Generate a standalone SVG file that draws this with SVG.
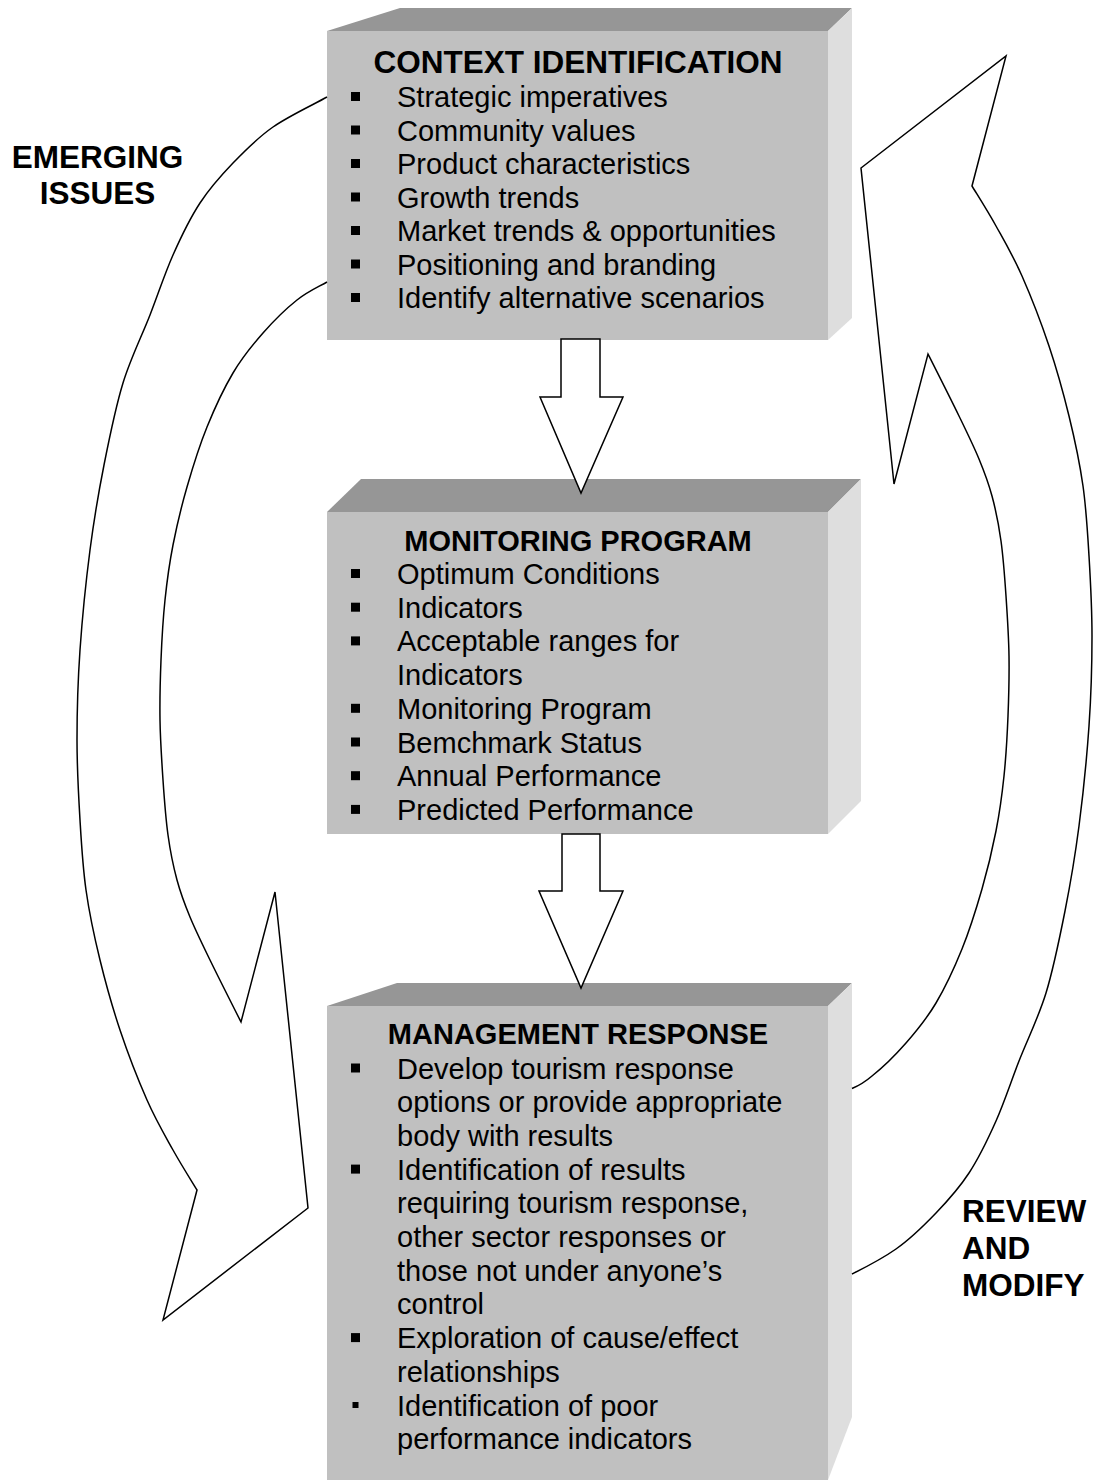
<svg xmlns="http://www.w3.org/2000/svg" width="1094" height="1480" viewBox="0 0 1094 1480">
<style>
.front{fill:#c0c0c0}
.topf{fill:#969696}
.side{fill:#dedede}
.t{font-family:"Liberation Sans",Arial,sans-serif;font-size:29px;fill:#000}
.h{font-weight:bold;text-anchor:middle}
.lbl{font-family:"Liberation Sans",Arial,sans-serif;font-size:31.5px;font-weight:bold;fill:#000}
.b{fill:#000}
.conn{fill:#fff;stroke:#000;stroke-width:1.5;stroke-linejoin:miter}
</style>
<rect width="1094" height="1480" fill="#fff"/>

<g id="node-context">
<polygon class="topf" points="327,31 400,8 852,8 828,31"/>
<polygon class="side" points="828,31 852,8 852,318 828,340"/>
<rect class="front" x="327" y="31" width="501" height="309"/>
<text class="t h" x="578" y="73" style="font-size:31.5px">CONTEXT IDENTIFICATION</text>
<g class="b">
<rect x="351" y="92" width="9" height="9"/>
<rect x="351" y="125.5" width="9" height="9"/>
<rect x="351" y="159" width="9" height="9"/>
<rect x="351" y="192.5" width="9" height="9"/>
<rect x="351" y="226" width="9" height="9"/>
<rect x="351" y="259.5" width="9" height="9"/>
<rect x="351" y="293" width="9" height="9"/>
</g>
<text class="t" x="397" y="107">Strategic imperatives</text>
<text class="t" x="397" y="140.5">Community values</text>
<text class="t" x="397" y="174">Product characteristics</text>
<text class="t" x="397" y="207.5">Growth trends</text>
<text class="t" x="397" y="241">Market trends &amp; opportunities</text>
<text class="t" x="397" y="274.5">Positioning and branding</text>
<text class="t" x="397" y="308">Identify alternative scenarios</text>
</g>

<g id="node-monitoring">
<polygon class="topf" points="327,512 361,479 861,479 828,512"/>
<polygon class="side" points="828,512 861,479 861,801 828,834"/>
<rect class="front" x="327" y="512" width="501" height="322"/>
<text class="t h" x="578" y="551">MONITORING PROGRAM</text>
<g class="b">
<rect x="351" y="569" width="9" height="9"/>
<rect x="351" y="602.7" width="9" height="9"/>
<rect x="351" y="636.4" width="9" height="9"/>
<rect x="351" y="703.8" width="9" height="9"/>
<rect x="351" y="737.5" width="9" height="9"/>
<rect x="351" y="771.2" width="9" height="9"/>
<rect x="351" y="804.9" width="9" height="9"/>
</g>
<text class="t" x="397" y="584">Optimum Conditions</text>
<text class="t" x="397" y="617.7">Indicators</text>
<text class="t" x="397" y="651.4">Acceptable ranges for</text>
<text class="t" x="397" y="685.1">Indicators</text>
<text class="t" x="397" y="718.8">Monitoring Program</text>
<text class="t" x="397" y="752.5">Bemchmark Status</text>
<text class="t" x="397" y="786.2">Annual Performance</text>
<text class="t" x="397" y="819.9">Predicted Performance</text>
</g>

<g id="node-management">
<polygon class="topf" points="327,1006 397,983 852,983 828,1006"/>
<polygon class="side" points="828,1006 852,983 852,1417 828,1480"/>
<rect class="front" x="327" y="1006" width="501" height="474"/>
<text class="t h" x="578" y="1044">MANAGEMENT RESPONSE</text>
<g class="b">
<rect x="351" y="1063.5" width="9" height="9"/>
<rect x="351" y="1164.6" width="9" height="9"/>
<rect x="351" y="1333.1" width="9" height="9"/>
<rect x="352.5" y="1402" width="6" height="6"/>
</g>
<text class="t" x="397" y="1078.5">Develop tourism response</text>
<text class="t" x="397" y="1112.2">options or provide appropriate</text>
<text class="t" x="397" y="1145.9">body with results</text>
<text class="t" x="397" y="1179.6">Identification of results</text>
<text class="t" x="397" y="1213.3">requiring tourism response,</text>
<text class="t" x="397" y="1247">other sector responses or</text>
<text class="t" x="397" y="1280.7">those not under anyone’s</text>
<text class="t" x="397" y="1314.4">control</text>
<text class="t" x="397" y="1348.1">Exploration of cause/effect</text>
<text class="t" x="397" y="1381.8">relationships</text>
<text class="t" x="397" y="1415.5">Identification of poor</text>
<text class="t" x="397" y="1449.2">performance indicators</text>
</g>

<g id="connectors">
<path id="arrow-emerging" class="conn" d="M327,97 C314.2,104.2 288.7,116 273,127 C257.3,138 245.2,150.3 233,163 C220.8,175.7 210,187.7 200,203 C190,218.3 181.3,236.3 173,255 C164.7,273.7 158.3,293.7 150,315 C141.7,336.3 130.7,358 123,383 C115.3,408 109.5,437.2 104,465 C98.5,492.8 94,519.2 90,550 C86,580.8 82.2,618.3 80,650 C77.8,681.7 77,711.7 77,740 C77,768.3 78.5,795 80,820 C81.5,845 82.7,866.7 86,890 C89.3,913.3 94.3,936.7 100,960 C105.7,983.3 112.2,1006.7 120,1030 C127.8,1053.3 138.2,1080 147,1100 C155.8,1120 164.7,1135 173,1150 C181.3,1165 193,1183.3 197,1190 L163,1320 L308,1208 L275,892 L241,1022 C235.8,1011.7 218.5,977.5 210,960 C201.5,942.5 195.5,930.3 190,917 C184.5,903.7 180.7,893.7 177,880 C173.3,866.3 170.3,851.7 168,835 C165.7,818.3 164.3,799.2 163,780 C161.7,760.8 160.3,740 160,720 C159.7,700 160.2,680 161,660 C161.8,640 163,619.2 165,600 C167,580.8 169.3,563.8 173,545 C176.7,526.2 181.3,506.7 187,487 C192.7,467.3 199.3,446 207,427 C214.7,408 223.7,388.7 233,373 C242.3,357.3 252.3,345.2 263,333 C273.7,320.8 286.3,308.5 297,300 C307.7,291.5 318.2,287 327,282"/>
<path id="arrow-review" class="conn" d="M852,1274 C862,1269 880.3,1260 896,1249 C911.7,1238 923.8,1225.7 936,1213 C948.2,1200.3 959,1188.3 969,1173 C979,1157.7 987.7,1139.7 996,1121 C1004.3,1102.3 1010.7,1082.3 1019,1061 C1027.3,1039.7 1038.3,1018 1046,993 C1053.7,968 1059.5,938.8 1065,911 C1070.5,883.2 1075,856.8 1079,826 C1083,795.2 1086.8,757.7 1089,726 C1091.2,694.3 1092,664.3 1092,636 C1092,607.7 1090.5,581 1089,556 C1087.5,531 1086.3,509.3 1083,486 C1079.7,462.7 1074.7,439.3 1069,416 C1063.3,392.7 1056.8,369.3 1049,346 C1041.2,322.7 1030.8,296 1022,276 C1013.2,256 1004.3,241 996,226 C987.7,211 976,192.7 972,186 L1006,56 L861,168 L894,484 L928,354 C933.2,364.3 950.5,398.5 959,416 C967.5,433.5 973.5,445.7 979,459 C984.5,472.3 988.3,482.3 992,496 C995.7,509.7 998.7,524.3 1001,541 C1003.3,557.7 1004.7,576.8 1006,596 C1007.3,615.2 1008.7,636 1009,656 C1009.3,676 1008.8,696 1008,716 C1007.2,736 1006,756.8 1004,776 C1002,795.2 999.7,812.2 996,831 C992.3,849.8 987.7,869.3 982,889 C976.3,908.7 969.7,930 962,949 C954.3,968 945.3,987.3 936,1003 C926.7,1018.7 916.7,1030.8 906,1043 C895.3,1055.2 882.7,1067.5 872,1076 C865,1082 858,1086 852,1088.5"/>
<polygon id="flow-1" class="conn" points="561,339 600,339 600,397 623,397 581,493 540,397 561,397"/>
<polygon id="flow-2" class="conn" points="562,834 600,834 600,891 623,891 581,988 539,891 562,891"/>
</g>

<g id="label-emerging">
<text class="lbl" x="97.5" y="168" text-anchor="middle">EMERGING</text>
<text class="lbl" x="97.5" y="204" text-anchor="middle">ISSUES</text>
</g>
<g id="label-review">
<text class="lbl" x="962" y="1222">REVIEW</text>
<text class="lbl" x="962" y="1259">AND</text>
<text class="lbl" x="962" y="1296">MODIFY</text>
</g>
</svg>
